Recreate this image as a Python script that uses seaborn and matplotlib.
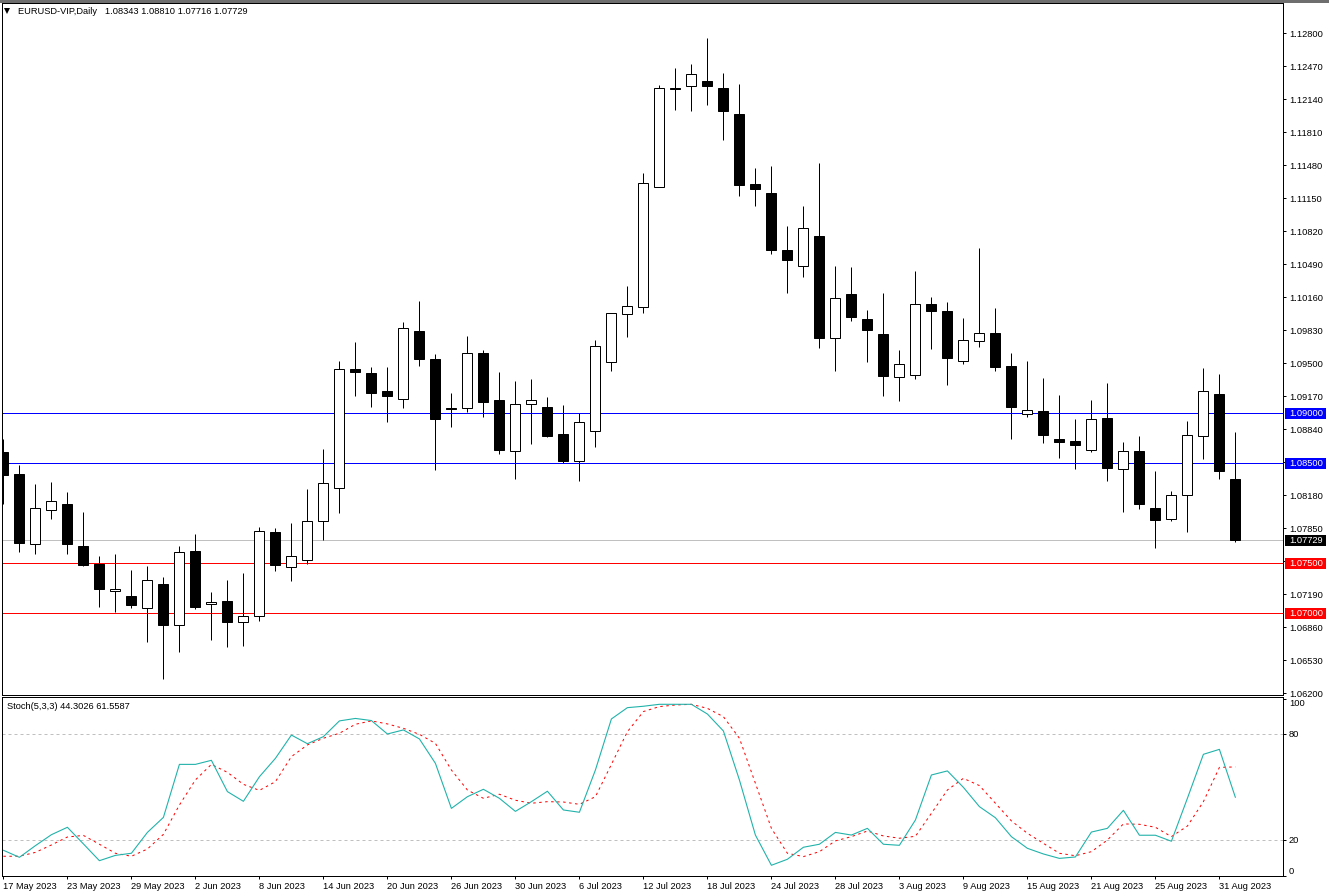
import matplotlib
matplotlib.use("Agg")
import matplotlib.pyplot as plt
from matplotlib.patches import Rectangle
import numpy as np
import pandas as pd
import seaborn as sns

opens = [1.0861, 1.0839, 1.07697, 1.08037, 1.0809, 1.0767, 1.0749, 1.07227, 1.0717, 1.07057,
         1.0729, 1.06887, 1.0762, 1.07097, 1.0712, 1.06917, 1.06977, 1.0781, 1.07467, 1.07537,
         1.07927, 1.08257, 1.0944, 1.094, 1.0922, 1.09147, 1.0982, 1.0954, 1.0905, 1.09057,
         1.096, 1.0913, 1.08627, 1.09097, 1.0906, 1.0879, 1.08527, 1.08827, 1.09517, 1.09993,
         1.10067, 1.11267, 1.12257, 1.12277, 1.12327, 1.12257, 1.1199, 1.1129, 1.112, 1.1063,
         1.10477, 1.1077, 1.09757, 1.1019, 1.0994, 1.0979, 1.09367, 1.09387, 1.1009, 1.1002,
         1.09527, 1.09727, 1.098, 1.0947, 1.08997, 1.0902, 1.0874, 1.0872, 1.08637, 1.0895,
         1.08447, 1.0862, 1.0805, 1.07947, 1.08187, 1.08777, 1.0919, 1.08343]
highs = [1.0874, 1.0848, 1.0829, 1.0831, 1.0821, 1.0801, 1.0757, 1.0759, 1.0743, 1.0747,
         1.0736, 1.07677, 1.0779, 1.07217, 1.0733, 1.074, 1.07867, 1.0785, 1.079, 1.0824,
         1.0864, 1.0952, 1.0971, 1.0946, 1.0946, 1.0991, 1.1012, 1.0959, 1.092, 1.0977,
         1.0963, 1.0941, 1.0932, 1.0934, 1.0916, 1.0908, 1.09007, 1.0973, 1.10007, 1.1027,
         1.114, 1.1228, 1.1245, 1.1249, 1.1275, 1.124, 1.1229, 1.1145, 1.1147, 1.1087,
         1.1107, 1.115, 1.1047, 1.1046, 1.1003, 1.102, 1.0963, 1.1042, 1.1016, 1.1011,
         1.0995, 1.1065, 1.1005, 1.096, 1.0952, 1.0935, 1.0918, 1.0894, 1.0913, 1.093,
         1.0871, 1.0877, 1.0842, 1.0822, 1.0892, 1.0945, 1.0939, 1.0881]
lows = [1.0809, 1.07613, 1.07593, 1.07943, 1.07593, 1.07473, 1.07063, 1.07013, 1.07053, 1.06713,
        1.06343, 1.06613, 1.07043, 1.06733, 1.06663, 1.06673, 1.06923, 1.07423, 1.07323, 1.07497,
        1.07733, 1.08, 1.0917, 1.0906, 1.0891, 1.0905, 1.0947, 1.0843, 1.0886, 1.0901,
        1.0896, 1.0859, 1.0834, 1.0869, 1.0876, 1.085, 1.0832, 1.0866, 1.0942, 1.09763,
        1.10003, 1.11263, 1.12033, 1.12023, 1.12083, 1.11733, 1.11173, 1.11073, 1.10593, 1.10203,
        1.10363, 1.09653, 1.09423, 1.09923, 1.09513, 1.09173, 1.0912, 1.09343, 1.09643, 1.09283,
        1.09493, 1.09663, 1.09423, 1.0874, 1.08963, 1.08703, 1.0855, 1.0844, 1.0861, 1.0832,
        1.0801, 1.08043, 1.07653, 1.0792, 1.0781, 1.0854, 1.0834, 1.07716]
closes = [1.08383, 1.07703, 1.08057, 1.08127, 1.07693, 1.07483, 1.07243, 1.07247, 1.07083, 1.07337,
          1.06883, 1.07617, 1.07063, 1.07117, 1.06913, 1.06977, 1.07827, 1.07483, 1.07577, 1.07927,
          1.08307, 1.09447, 1.09413, 1.09203, 1.09173, 1.09857, 1.09543, 1.08943, 1.0904, 1.09607,
          1.09113, 1.08633, 1.09097, 1.09137, 1.08773, 1.08523, 1.08917, 1.09677, 1.10007, 1.10077,
          1.11307, 1.12257, 1.12243, 1.12397, 1.12273, 1.12023, 1.11283, 1.11243, 1.10633, 1.10533,
          1.10857, 1.09753, 1.10157, 1.09963, 1.09833, 1.09373, 1.09497, 1.10097, 1.10023, 1.09553,
          1.09737, 1.09807, 1.09463, 1.09063, 1.09037, 1.08783, 1.0871, 1.08683, 1.08947, 1.08453,
          1.08627, 1.08093, 1.07933, 1.08187, 1.08787, 1.09227, 1.08423, 1.07729]

stoch_main = [14.4, 10.4, 17, 23.2, 27.4, 18, 8.5, 11.5, 12.7, 24.5,
              33, 63, 63, 65.3, 47.6, 42.1, 56, 66.4, 79.6, 74.7,
              78.7, 87.6, 89, 87.8, 80.2, 82.5, 77.4, 63.6, 38.1, 44.7,
              48.9, 43.8, 36.4, 41.9, 47.8, 37.2, 35.9, 59.8, 88.7, 95.1,
              95.9, 97, 97, 97, 91.5, 81.9, 54.2, 23, 5.9, 9.3,
              16.1, 17.8, 24.5, 23, 26.8, 17.8, 17.2, 31.5, 57, 59.3,
              50, 39.1, 32.8, 22.1, 15.5, 12.3, 9.8, 10.6, 24.7, 26.8,
              37, 22.9, 22.9, 19.5, 43.8, 68.7, 71.5, 44.3]
stoch_signal = [11, 11, 13.2, 17.4, 21.9, 22.8, 17.8, 12.7, 11, 15.1,
                23.4, 40, 54.2, 63, 58.5, 51.7, 48.3, 53.2, 67.4, 74,
                77.8, 80.6, 85.7, 87.6, 85.9, 83.4, 80, 74.9, 59.8, 48.5,
                43.8, 46.1, 42.7, 41, 41.9, 41.7, 40.4, 44.7, 63, 81.5,
                92.9, 95.7, 96.6, 97, 94.7, 90, 77.8, 52.3, 26.8, 12.7,
                10.8, 13.6, 19.7, 22.1, 25.3, 22.5, 21.2, 22.3, 35.3, 48.5,
                55.1, 51, 41, 31, 24, 18.3, 12.7, 11.3, 13.6, 20.2,
                29.3, 29.1, 27.4, 22.1, 28.1, 41.9, 61.3, 61.56]

date_labels = ["17 May 2023", "23 May 2023", "29 May 2023", "2 Jun 2023", "8 Jun 2023",
               "14 Jun 2023", "20 Jun 2023", "26 Jun 2023", "30 Jun 2023", "6 Jul 2023",
               "12 Jul 2023", "18 Jul 2023", "24 Jul 2023", "28 Jul 2023", "3 Aug 2023",
               "9 Aug 2023", "15 Aug 2023", "21 Aug 2023", "25 Aug 2023", "31 Aug 2023"]
price_ticks = [1.128, 1.1247, 1.1214, 1.1181, 1.1148, 1.1115, 1.1082, 1.1049, 1.1016, 1.0983,
               1.095, 1.0917, 1.0884, 1.0851, 1.0818, 1.0785, 1.0752, 1.0719, 1.0686, 1.0653, 1.062]
hidden_ticks = [1.0851, 1.0752]
blue_levels = [1.09, 1.085]
red_levels = [1.075, 1.07]
last_price = 1.07729
stoch_ticks = [100, 80, 20, 0]
header = "EURUSD-VIP,Daily   1.08343 1.08810 1.07716 1.07729"
stoch_header = "Stoch(5,3,3) 44.3026 61.5587"

sns.set_theme(style="white")
plt.rcParams['font.family'] = ['Liberation Sans', 'DejaVu Sans']
LW = 0.72  # one pixel at dpi 100
FS = 6.7

W, H = 1329, 896
fig = plt.figure(figsize=(W / 100, H / 100), dpi=100, facecolor='white')


def panel(left, top, right, bottom):
    return fig.add_axes([left / W, 1 - bottom / H, (right - left) / W, (bottom - top) / H])


# .3 so the spines snap onto the same pixel rows and columns as the reference
ax = panel(2.3, 3.3, 1283.3, 695.3)
ax2 = panel(2.3, 697.3, 1283.3, 876.3)

# gray window edge above the chart
fig.add_artist(Rectangle((0, 1 - 3 / H), 1, 3 / H, transform=fig.transFigure, facecolor='#6e6e6e', edgecolor='none'))

df = pd.DataFrame({"bar": np.arange(len(opens)), "open": opens, "high": highs,
                   "low": lows, "close": closes,
                   "main": stoch_main, "signal": stoch_signal})
df["top"] = df[["open", "close"]].max(axis=1)
df["bottom"] = df[["open", "close"]].min(axis=1)

xlim = ((2.3 - 3.4) / 16, (1283.3 - 3.4) / 16)

# candles
ax.vlines(df["bar"], df["low"], df["high"], color='black', lw=LW, zorder=3)
up = df["close"] >= df["open"]
ax.bar(df["bar"][up], df["top"][up] - df["bottom"][up], bottom=df["bottom"][up], width=10 / 16,
       facecolor='white', edgecolor='black', lw=LW, zorder=4)
ax.bar(df["bar"][~up], df["top"][~up] - df["bottom"][~up], bottom=df["bottom"][~up], width=10 / 16,
       facecolor='black', edgecolor='black', lw=LW, zorder=4)

# horizontal levels
for lvl in blue_levels:
    ax.axhline(lvl, color='#0000ff', lw=LW, zorder=2)
for lvl in red_levels:
    ax.axhline(lvl, color='#ff0000', lw=LW, zorder=2)
ax.axhline(last_price, color='#c0c0c0', lw=LW, zorder=2)

ax.set_xlim(xlim)
ax.set_ylim(1.128 - (695.3 - 33.3) * 1e-4, 1.128 + (33.3 - 3.3) * 1e-4)
ax.set_xticks([])
ax.yaxis.tick_right()
ax.set_yticks(price_ticks)
ax.set_yticklabels(["" if t in hidden_ticks else f"{t:.5f}" for t in price_ticks])
ax.tick_params(axis='y', length=2.4, width=LW, color='black', pad=1.7, labelsize=FS, labelcolor='black', right=True)

# price tags on the axis
tags = [(v, '#0000ff', 'white') for v in blue_levels] + [(v, '#ff0000', 'white') for v in red_levels]
tags.append((last_price, 'black', 'white'))
for value, bg, fg in tags:
    ax.add_patch(Rectangle((1.0012, value - 0.00055), 0.032, 0.0011, transform=ax.get_yaxis_transform(),
                           facecolor=bg, edgecolor='none', clip_on=False, zorder=6))
    ax.text(1.005, value - 0.00003, f"{value:.5f}", transform=ax.get_yaxis_transform(), color=fg,
            fontsize=FS, va='center', ha='left', clip_on=False, zorder=7)

ax.plot(0.0033, 0.9885, marker='v', ms=4.5, color='black', mew=0, transform=ax.transAxes, clip_on=False)
ax.text(15.5 / 1281, 0.988, header, transform=ax.transAxes, fontsize=FS, color='black', va='center', ha='left')

# stochastic panel
for lvl in [80, 20]:
    ax2.axhline(lvl, color='#c0c0c0', lw=LW, linestyle=(0, (3, 3)), zorder=1)
sns.lineplot(data=df, x="bar", y="signal", ax=ax2, color='#ff0000', lw=LW, linestyle=(0, (2.5, 3.5)), zorder=3)
sns.lineplot(data=df, x="bar", y="main", ax=ax2, color='#20b2aa', lw=LW * 1.1, zorder=4)

ax2.set_xlim(xlim)
ax2.set_ylim((875.7 - 876.3) / 1.767, (875.7 - 697.3) / 1.767)
ax2.set_xlabel("")
ax2.set_ylabel("")
ax2.text(5 / 1281, 1 - 9 / 179, stoch_header, transform=ax2.transAxes, fontsize=FS, color='black', va='center', ha='left')

ax2.yaxis.tick_right()
ax2.set_yticks(stoch_ticks)
ax2.set_yticklabels([str(t) for t in stoch_ticks])
ax2.tick_params(axis='y', length=2.4, width=LW, color='black', pad=1.7, labelsize=FS, labelcolor='black', right=True)
for label, t in zip(ax2.get_yticklabels(), stoch_ticks):
    label.set_va('top' if t == 100 else 'bottom' if t == 0 else 'center')

ax2.set_xticks(np.arange(0, len(opens), 4))
ax2.set_xticklabels(date_labels, ha='left')
ax2.tick_params(axis='x', length=2.4, width=LW, color='black', pad=1.4, labelsize=FS, labelcolor='black', bottom=True)

for a in [ax, ax2]:
    for spine in a.spines.values():
        spine.set_color('black')
        spine.set_linewidth(LW)

fig.savefig("out.png", dpi=100, facecolor='white')
